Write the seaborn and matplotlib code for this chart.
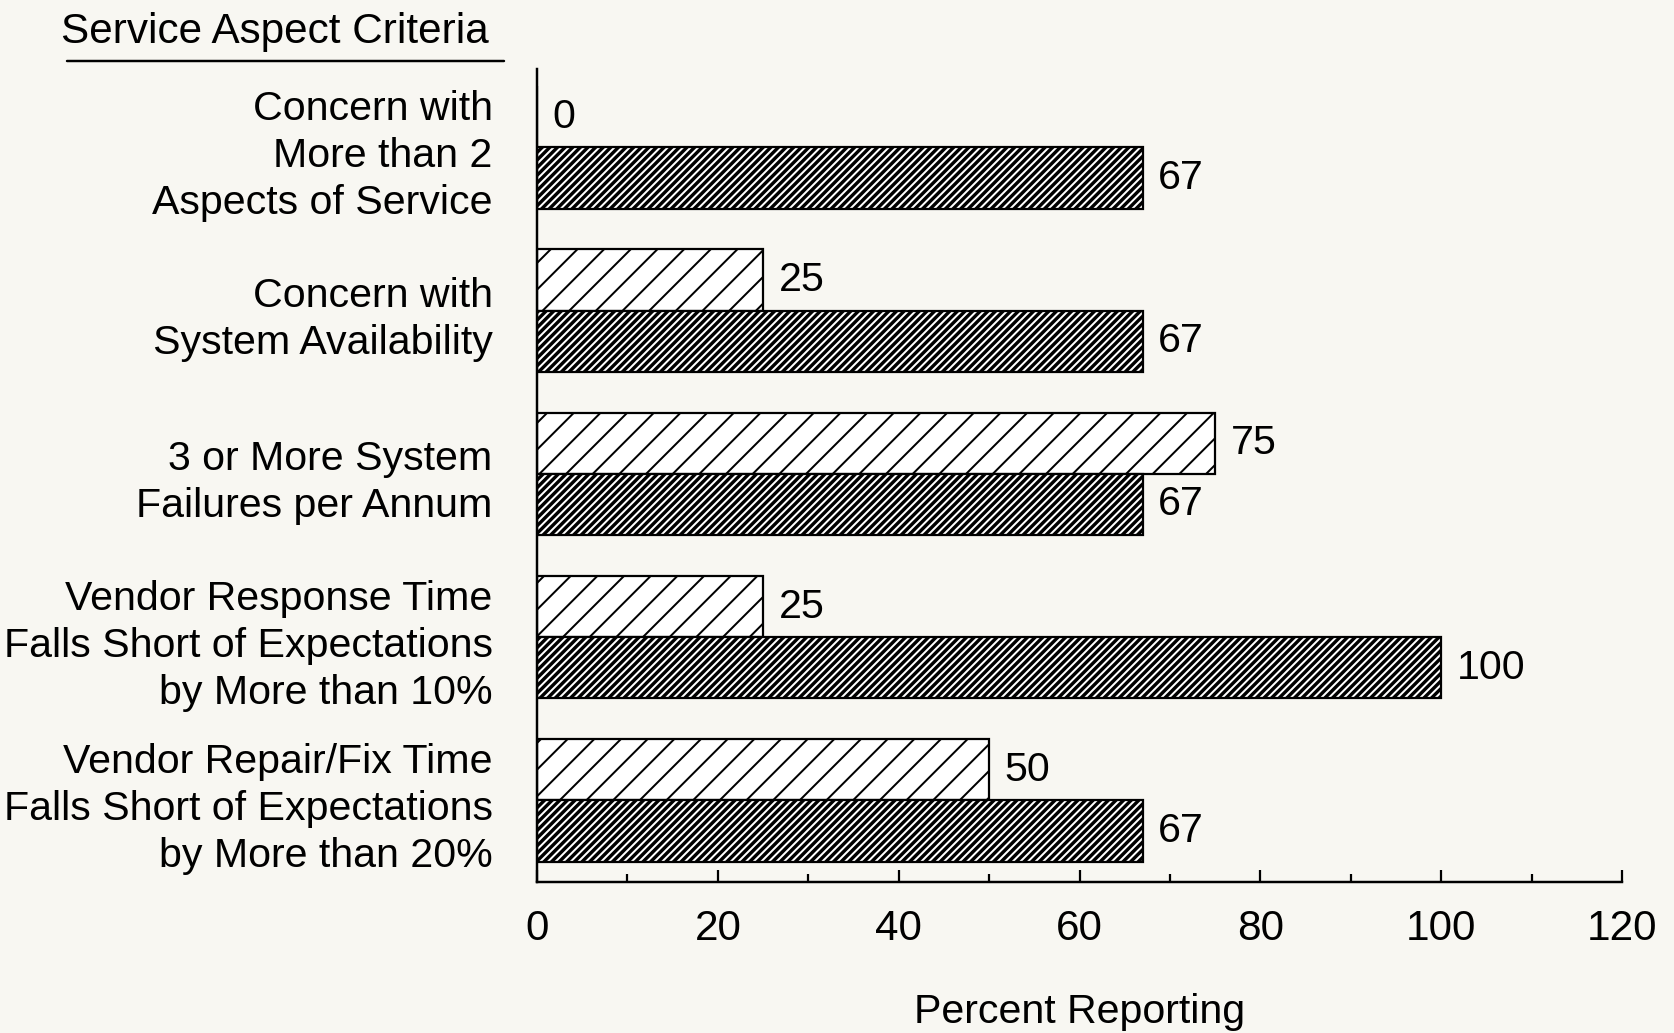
import numpy as np
import pandas as pd
import seaborn as sns
import matplotlib.pyplot as plt
from matplotlib.lines import Line2D

criteria = [
  'Concern with\nMore than 2\nAspects of Service',
  'Concern with\nSystem Availability',
  '3 or More System\nFailures per Annum',
  'Vendor Response Time\nFalls Short of Expectations\nby More than 10%',
  'Vendor Repair/Fix Time\nFalls Short of Expectations\nby More than 20%',
]
light_pct = [0, 25, 75, 25, 50]
dark_pct = [67, 67, 67, 100, 67]
groups = ['light', 'dark']
x_ticks = [0, 20, 40, 60, 80, 100, 120]
minor_ticks = [10, 30, 50, 70, 90, 110]

def main():
  sns.set_style('white')
  plt.rcParams['font.family'] = ['Liberation Sans', 'DejaVu Sans']
  plt.rcParams['hatch.linewidth'] = 0.9
  for k in ['text.color', 'axes.labelcolor', 'xtick.color', 'ytick.color']:
    plt.rcParams[k] = 'black'
  bg = '#f8f7f2'

  df = pd.DataFrame({
    'criterion': criteria * 2,
    'pct': light_pct + dark_pct,
    'group': [groups[0]] * len(criteria) + [groups[1]] * len(criteria),
  })

  dpi = 160
  fig = plt.figure(figsize=(1674 / dpi, 1033 / dpi), dpi=dpi, facecolor=bg)
  ax = fig.add_axes([537 / 1674, 1 - 882 / 1033, (1622 - 537) / 1674, (882 - 69) / 1033])
  ax.set_facecolor(bg)

  sns.barplot(data=df, y='criterion', x='pct', hue='group', hue_order=groups,
              orient='h', palette=['white', 'black'], edgecolor='black',
              linewidth=1.0, width=0.75, legend=False, ax=ax)

  light_bars, dark_bars = ax.containers[0], ax.containers[1]
  for p in light_bars:
    p.set_hatch('//')
  for p in dark_bars:
    p.set_hatch('///////')
    p._hatch_color = (1, 1, 1, 1)

  for c in ax.containers:
    ax.bar_label(c, fmt='%d', padding=7, fontsize=18.5)

  ax.set_xlim(0, 120)
  ax.set_ylim(4.5, -0.48)
  ax.set_xticks(x_ticks)
  ax.set_xticks(minor_ticks, minor=True)
  ax.tick_params(axis='x', which='major', direction='in', length=5.5, width=1.0,
                 pad=12, labelsize=19, bottom=True)
  ax.tick_params(axis='x', which='minor', direction='in', length=3.5, width=1.0, bottom=True)
  ax.tick_params(axis='y', length=0, pad=20, labelsize=18.5)
  for lbl in ax.get_yticklabels():
    lbl.set_multialignment('right')
    lbl.set_linespacing(1.3)

  sns.despine(ax=ax, top=True, right=True)
  for s in ['left', 'bottom']:
    ax.spines[s].set_linewidth(1.1)
    ax.spines[s].set_color('black')

  ax.set_ylabel('')
  ax.set_xlabel('Percent Reporting', fontsize=18.5, labelpad=20)

  fig.text(489 / 1674, 1 - 32 / 1033, 'Service Aspect Criteria', fontsize=19,
           ha='right', va='center')
  fig.add_artist(Line2D([67 / 1674, 504 / 1674], [1 - 61 / 1033, 1 - 61 / 1033],
                        color='black', linewidth=1.1, transform=fig.transFigure))

  plt.savefig('out.png', dpi=dpi, facecolor=bg)

if __name__ == '__main__':
  main()
